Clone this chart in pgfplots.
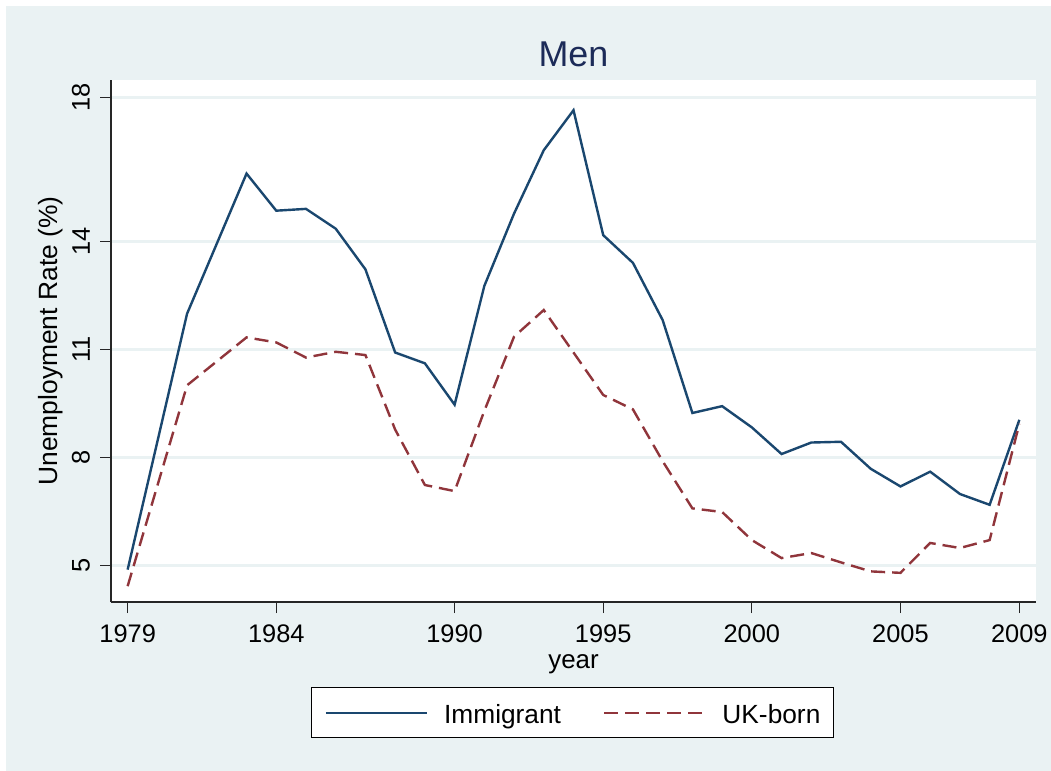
\documentclass[border=0pt]{standalone}
\usepackage{pgfplots}
\pgfplotsset{compat=1.18}
\usepackage{fontspec}
\setmainfont{Liberation Sans}
\definecolor{bgc}{RGB}{234,242,243}
\definecolor{navyc}{RGB}{26,71,111}
\definecolor{maroonc}{RGB}{144,53,59}
\definecolor{titlec}{RGB}{28,43,88}
\pgfplotstableread{
year imm
1979 4.89
1981 12.00
1983 15.89
1984 14.86
1985 14.91
1986 14.36
1987 13.23
1988 10.92
1989 10.62
1990 9.47
1991 12.77
1992 14.78
1993 16.54
1994 17.65
1995 14.18
1996 13.41
1997 11.82
1998 9.24
1999 9.43
2000 8.84
2001 8.10
2002 8.42
2003 8.44
2004 7.69
2005 7.20
2006 7.61
2007 6.99
2008 6.69
2009 9.05
}\immtable
\pgfplotstableread{
year uk
1979 4.43
1981 10.01
1983 11.34
1984 11.20
1985 10.78
1986 10.94
1987 10.85
1988 8.78
1989 7.24
1990 7.07
1991 9.30
1992 11.36
1993 12.10
1994 10.92
1995 9.74
1996 9.34
1997 7.90
1998 6.59
1999 6.49
2000 5.71
2001 5.21
2002 5.35
2003 5.09
2004 4.84
2005 4.80
2006 5.63
2007 5.49
2008 5.71
2009 8.94
}\uktable
\begin{document}
\begin{tikzpicture}
\fill[white] (0bp,0bp) rectangle (1051bp,771bp);
\fill[bgc] (6bp,0bp) rectangle (1051bp,765bp);
\begin{axis}[
  at={(111bp,169bp)}, anchor=south west,
  scale only axis, width=925bp, height=522bp,
  xmin=1978.44, xmax=2009.56, ymin=3.99, ymax=18.49,
  axis lines*=left,
  axis line style={-, draw=black!85, line width=1.1bp},
  axis background/.style={fill=white},
  xtick={1979,1984,1990,1995,2000,2005,2009},
  ytick={5,8,11,14,18},
  tick align=outside, major tick length=11bp,
  tick style={draw=black!85, line width=1.1bp},
  ymajorgrids, grid style={draw=bgc, line width=2.6bp},
  /pgf/number format/1000 sep={},
  /pgf/number format/assume math mode=true,
  ticklabel style={font=\fontsize{25.5}{30}\selectfont, inner sep=0pt},
  xticklabel style={anchor=north},
  yticklabel style={rotate=90, anchor=south},
  xticklabel shift=12bp,
  yticklabel shift=10bp,
  title={Men},
  title style={at={(axis description cs:0.5,1.0147)}, anchor=base, inner sep=0pt,
    font=\fontsize{36}{40}\selectfont, text=titlec},
  xlabel={year},
  xlabel style={at={(axis description cs:0.5,-0.1)}, anchor=north, inner sep=0pt,
    font=\fontsize{26}{30}\selectfont},
  ylabel={Unemployment Rate (\%)},
  ylabel style={at={(axis description cs:-0.0649,0.5)}, anchor=center, rotate=0, inner sep=0pt,
    font=\fontsize{26.5}{30}\selectfont},
  legend columns=2,
  legend image code/.code={\draw[#1] (0bp,0bp) -- (101bp,0bp);},
  legend style={at={(axis description cs:0.499,-0.2126)}, anchor=center,
    draw=black, line width=1bp, fill=white,
    inner xsep=13.5bp, inner ysep=14bp,
    font=\fontsize{26.4}{30}\selectfont,
    nodes={inner sep=0pt, text height=22bp, text depth=0bp},
    /tikz/every odd column/.style={column sep=16bp},
    /tikz/every even column/.style={column sep=42bp}},
]
\addplot[navyc, line width=2.4bp] table[x=year, y=imm] {\immtable};
\addlegendentry{Immigrant}
\addplot[maroonc, line width=2.4bp, dash pattern=on 14bp off 7bp] table[x=year, y=uk] {\uktable};
\addlegendentry{UK-born}
\end{axis}
\end{tikzpicture}
\end{document}
